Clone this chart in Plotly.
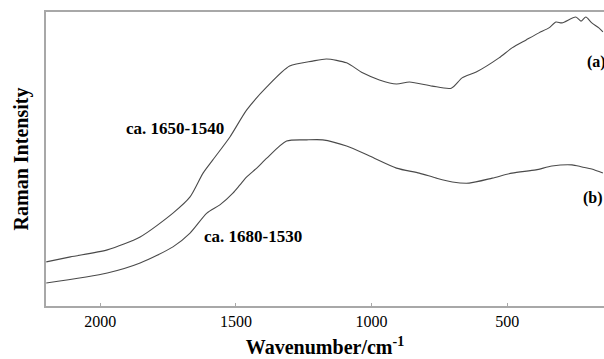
import plotly.graph_objects as go

# Curve (a)
wn_a = [2199, 2110, 1974, 1853, 1732, 1669, 1621, 1585, 1522, 1460, 1386, 1302,
        1217, 1166, 1092, 1033, 971, 908, 860, 776, 706, 666, 614, 530, 482,
        430, 383, 346, 320, 298, 247, 228, 210, 188, 162, 147]
int_a = [15.0, 16.7, 19.1, 23.5, 31.6, 37.1, 45.2, 49.7, 57.5, 66.7, 74.5, 81.6,
         83.3, 84.0, 82.7, 79.3, 76.9, 75.5, 76.2, 74.8, 74.1, 77.6, 79.6, 84.4, 87.8,
         90.5, 92.9, 94.6, 96.6, 96.3, 98.3, 96.9, 98.3, 96.3, 94.6, 93.2]

# Curve (b)
wn_b = [2199, 1974, 1853, 1732, 1669, 1607, 1559, 1511, 1485, 1460, 1423, 1386,
        1313, 1239, 1180, 1092, 1007, 908, 824, 761, 702, 640, 555, 482, 394,
        335, 261, 224, 188, 147]
int_b = [7.8, 11.2, 14.6, 20.1, 24.8, 31.6, 34.4, 38.4, 41.2, 43.9, 46.9, 50.3,
         56.1, 56.5, 56.5, 54.4, 51.0, 46.9, 45.2, 43.5, 42.2, 41.8, 43.5, 45.2, 46.3,
         47.6, 48.0, 47.3, 46.6, 45.2]

tick_vals = [2000, 1500, 1000, 500]
tick_text = ["2000", "1500", "1000", "500"]

SERIF = "Liberation Serif"
line_col = "#4a4a4a"

fig = go.Figure()
fig.add_trace(go.Scatter(x=wn_a, y=int_a, mode="lines",
                         line=dict(color=line_col, width=1.1, shape="spline", smoothing=0.7),
                         showlegend=False))
fig.add_trace(go.Scatter(x=wn_b, y=int_b, mode="lines",
                         line=dict(color=line_col, width=1.1, shape="spline", smoothing=0.7),
                         showlegend=False))

ann_font = dict(family=SERIF, size=17, color="black")
fig.add_annotation(x=1724, y=60.5, text="<b>ca. 1650-1540</b>", showarrow=False, font=ann_font)
fig.add_annotation(x=1438, y=23.5, text="<b>ca. 1680-1530</b>", showarrow=False, font=ann_font)
fig.add_annotation(x=213, y=83, text="<b>(a)</b>", showarrow=False, xanchor="left",
                   font=dict(family=SERIF, size=16, color="black"))
fig.add_annotation(x=226, y=36.7, text="<b>(b)</b>", showarrow=False, xanchor="left",
                   font=dict(family=SERIF, size=16, color="black"))

fig.update_layout(
    width=604, height=359,
    margin=dict(l=46, r=0, t=12, b=53),
    paper_bgcolor="white", plot_bgcolor="white",
    font=dict(family=SERIF),
    xaxis=dict(range=[2200, 143], tickvals=tick_vals, ticktext=tick_text,
               showline=True, linecolor="#a8a8a8", linewidth=1.6, mirror=True,
               showgrid=False, zeroline=False, ticks="inside", ticklen=3,
               tickcolor="#a8a8a8",
               tickfont=dict(family=SERIF, size=16, color="black"),
               title=dict(text="<b>Wavenumber/cm<sup>-1</sup></b>", standoff=11,
                          font=dict(family=SERIF, size=20, color="black"))),
    yaxis=dict(range=[0, 100], showticklabels=False, ticks="",
               showline=True, linecolor="#a8a8a8", linewidth=1.6,
               showgrid=False, zeroline=False,
               title=dict(text="<b>Raman Intensity</b>", standoff=10,
                          font=dict(family=SERIF, size=20, color="black"))),
)

fig.write_html("out.html")
